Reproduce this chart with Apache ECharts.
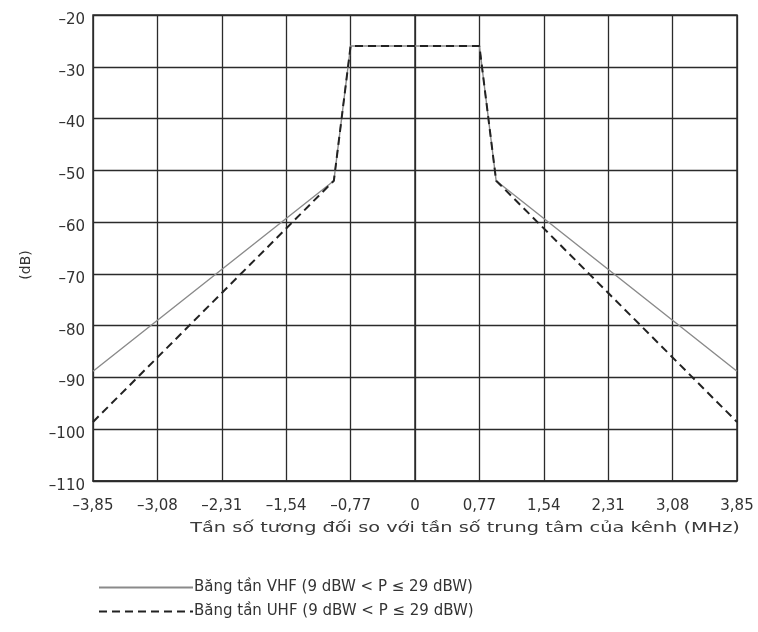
<!DOCTYPE html>
<html><head><meta charset="utf-8">
<script src="https://cdn.jsdelivr.net/npm/echarts@6/dist/echarts.min.js"></script>
<style>html,body{margin:0;padding:0;background:#fff}#c{width:758px;height:632px}</style>
</head><body><div id="c"></div>
<script>
const freqMHz = [-3.85, -0.97, -0.77, 0.77, 0.97, 3.85];
const vhfDb = [-88.8, -52, -26, -26, -52, -88.8];
const uhfDb = [-98.6, -52, -26, -26, -52, -98.6];
const seriesNames = ['Băng tần VHF (9 dBW < P ≤ 29 dBW)', 'Băng tần UHF (9 dBW < P ≤ 29 dBW)'];
const xAxisTitle = 'Tần số tương đối so với tần số trung tâm của kênh (MHz)';
const yAxisTitle = '(dB)';

const fmt = v => {
  const r = Math.round(v * 100) / 100;
  if (r === 0) return '0';
  const s = Math.abs(r).toFixed(2).replace('.', ',');
  return (r < 0 ? '–' : '') + s;
};
const fmtY = v => (v < 0 ? '–' : '') + Math.abs(Math.round(v));

const font = 'DejaVu Sans, Arial, sans-serif';
const txt = '#333';
const grid = '#2b2b2b';

const chart = echarts.init(document.getElementById('c'), null, {renderer: 'canvas'});
chart.setOption({
  animation: false,
  textStyle: {fontFamily: font},
  grid: {left: 93, top: 15, right: 21, bottom: 151, show: true, borderColor: grid, borderWidth: 1.5},
  legend: {
    orient: 'vertical', left: 93, top: 575, itemWidth: 94, itemHeight: 12, itemGap: 9,
    itemStyle: {opacity: 0, borderWidth: 0},
    textStyle: {fontFamily: font, fontSize: 15, color: txt, padding: [0, 0, 0, -4]},
    data: seriesNames
  },
  graphic: [{
    type: 'text', x: 465, y: 528, scaleX: 1.38, silent: true,
    style: {text: xAxisTitle, fill: '#3a3a3a', font: '14px DejaVu Sans', align: 'center', verticalAlign: 'middle'}
  }],
  xAxis: {
    type: 'value', min: -3.85, max: 3.85, interval: 0.77,
    axisLine: {show: true, onZero: false, lineStyle: {color: grid, width: 1.5}},
    axisTick: {show: false},
    axisLabel: {formatter: fmt, color: txt, fontSize: 15, fontFamily: font, margin: 18, showMinLabel: true, showMaxLabel: true},
    splitLine: {show: true, lineStyle: {color: grid, width: 1.3}}
  },
  yAxis: {
    type: 'value', min: -110, max: -20, interval: 10,
    name: yAxisTitle, nameLocation: 'middle', nameGap: 60, nameRotate: 90,
    nameTextStyle: {fontFamily: font, fontSize: 14, color: txt, padding: [0, 0, 0, -34]},
    axisLine: {show: true, lineStyle: {color: grid, width: 1.5}},
    axisTick: {show: false},
    axisLabel: {formatter: fmtY, color: txt, fontSize: 15, fontFamily: font, margin: 8, verticalAlign: 'top', lineHeight: 10},
    splitLine: {show: true, lineStyle: {color: grid, width: 1.3}}
  },
  series: [
    {
      name: seriesNames[0], type: 'line', symbol: 'none',
      data: freqMHz.map((x, i) => [x, vhfDb[i]]),
      lineStyle: {color: '#8a8a8a', width: 1.4}, itemStyle: {color: '#8a8a8a'}, z: 3
    },
    {
      name: seriesNames[1], type: 'line', symbol: 'none',
      data: freqMHz.map((x, i) => [x, uhfDb[i]]),
      lineStyle: {color: '#222', width: 2, type: [8, 5]}, itemStyle: {color: '#222'}, z: 4
    }
  ]
});
</script></body></html>
